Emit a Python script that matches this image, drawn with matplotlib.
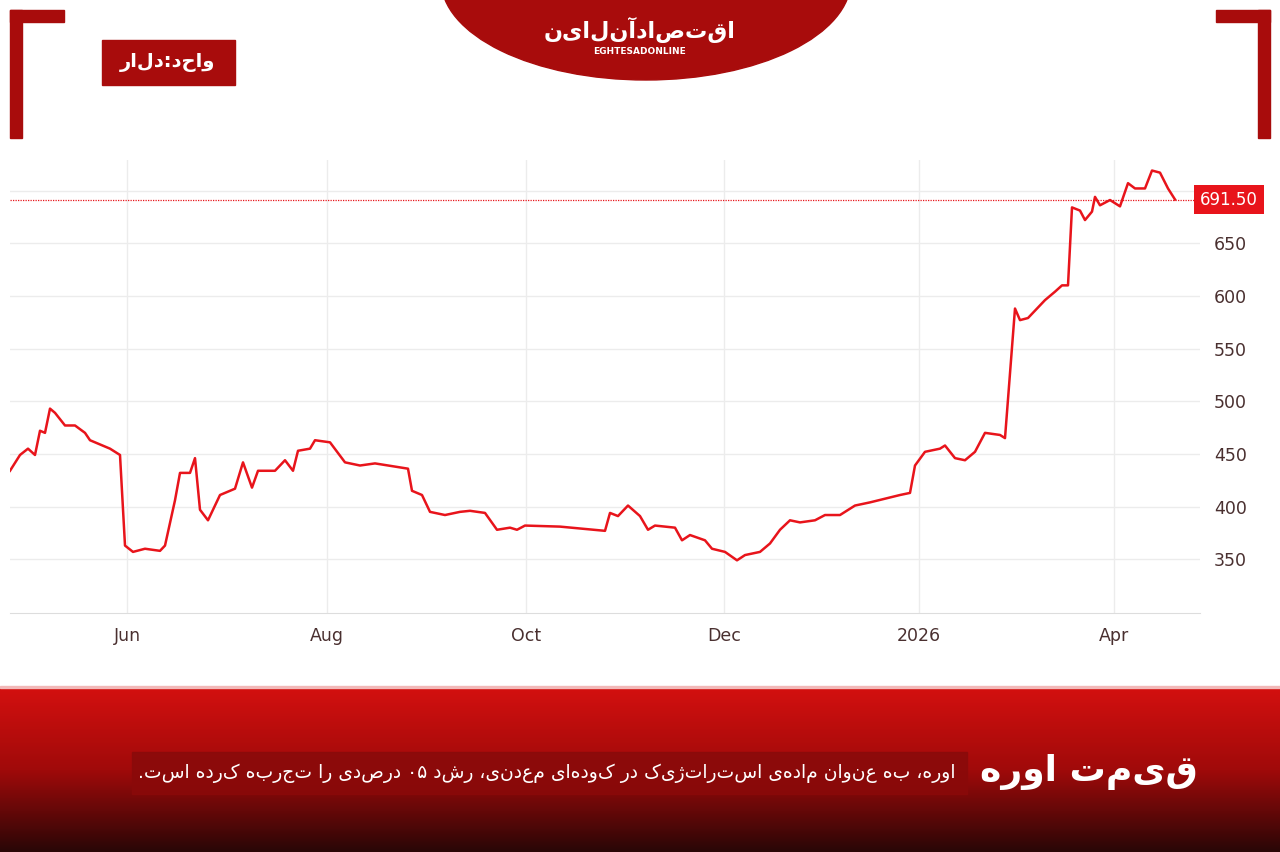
import numpy as np
import matplotlib.pyplot as plt
from matplotlib.patches import Rectangle, Ellipse
from matplotlib.colors import LinearSegmentedColormap

# posiciones (indice de sesion) y precios de la urea, USD
pos = [0, 2, 3.6, 5, 6, 7, 8, 9, 11, 13,
       15, 16, 20, 22, 23, 24.6, 27, 30, 31, 33,
       34, 36, 37, 38, 39.6, 42, 45, 46.6, 48.4, 49.6,
       53, 55, 56.6, 57.6, 60, 61, 64, 67, 70, 73,
       79.6, 80.4, 82.4, 84, 87, 90, 92, 95, 97.4, 100,
       101.4, 103, 110, 119, 120, 121.6, 123.6, 126, 127.6, 129,
       133, 134.4, 136, 139, 140.4, 143, 145.4, 147, 150, 152,
       154, 156, 158, 161, 163, 166, 169, 172, 178, 180,
       181, 183, 186, 187, 189, 191, 193, 195, 198, 199,
       201, 202, 203.6, 205, 207, 209, 210.4, 211.6, 212.4, 214,
       215, 216.4, 217, 218, 220, 222, 223.6, 225, 227, 228.4,
       230, 231.6, 233]
price = [434, 449, 455, 449, 472, 470, 493, 489, 477, 477,
         470, 463, 455, 449, 363, 357, 360, 358, 363, 406,
         432, 432, 446, 397, 387, 411, 417, 442, 418, 434,
         434, 444, 434, 453, 455, 463, 461, 442, 439, 441,
         436, 415, 411, 395, 392, 395, 396, 394, 378, 380,
         378, 382, 381, 377, 394, 391, 401, 391, 378, 382,
         380, 368, 373, 368, 360, 357, 349, 354, 357, 365,
         378, 387, 385, 387, 392, 392, 401, 404, 411, 413,
         439, 452, 455, 458, 446, 444, 452, 470, 468, 465,
         588, 577, 579, 586, 596, 604, 610, 610, 684, 681,
         672, 680, 694, 686, 691, 685, 707, 702, 702, 719,
         717, 702, 691.5]
last = 691.5

month_pos = [23.4, 63.4, 103.2, 142.8, 181.8, 220.8]
month_lbl = ['Jun', 'Aug', 'Oct', 'Dec', '2026', 'Apr']
yticks = [350, 400, 450, 500, 550, 600, 650, 700]

red = '#e8141b'
dark = '#a80c0c'

fig = plt.figure(figsize=(12.8, 8.52), dpi=100)
W, H = 1280, 852

def box(px, py, w, h):
    return [px / W, 1 - (py + h) / H, w / W, h / H]

ax = fig.add_axes(box(10, 160, 1190, 453))
ax.plot(pos, price, color=red, lw=1.8, zorder=3)
ax.axhline(last, color=red, lw=0.9, ls=(0, (1, 1)), zorder=2)
ax.set_xlim(0, 238)
ax.set_ylim(299, 729)
ax.set_yticks(yticks)
ax.set_xticks(month_pos)
ax.set_xticklabels(month_lbl)
ax.yaxis.tick_right()
ax.tick_params(length=0, labelsize=12.5, colors='#4a3030', pad=10)
ax.grid(True, color='#ececec', lw=1)
for s in ['top', 'left', 'right']:
    ax.spines[s].set_visible(False)
ax.spines['bottom'].set_color('#dddddd')
ax.text(1.0, last, f'{last:.2f}', transform=ax.get_yaxis_transform(), color='white',
        fontsize=12, ha='left', va='center', zorder=5,
        bbox=dict(boxstyle='square,pad=0.35', fc=red, ec='none'))

# decoracion de la pagina
bg = fig.add_axes([0, 0, 1, 1], zorder=-1)
bg.set_xlim(0, W)
bg.set_ylim(H, 0)
bg.axis('off')
for r in [(10, 10, 54, 12), (10, 10, 12, 128), (1216, 10, 54, 12), (1258, 10, 12, 128)]:
    bg.add_patch(Rectangle(r[:2], r[2], r[3], color=dark))
bg.add_patch(Ellipse((646, -20), 410, 200, color=dark))
bg.add_patch(Rectangle((102, 40), 133, 45, color=dark))

top = fig.add_axes([0, 0, 1, 1], zorder=5)
top.axis('off')
cmap = LinearSegmentedColormap.from_list('banda', ['#d3100f', '#a00a0a', '#2a0606'])
grad = np.linspace(0, 1, 100).reshape(-1, 1)
top.imshow(grad, extent=(0, W, 852, 688), origin='upper', cmap=cmap, aspect='auto')
top.set_xlim(0, W)
top.set_ylim(H, 0)
top.add_patch(Rectangle((132, 752), 835, 42, color='#8a0a0a', alpha=0.9))
top.add_patch(Rectangle((0, 686), W, 2, color='#f2b8b8'))

fa = ['DejaVu Sans']
top.text(168, 63, 'واحد:دلار'[::-1], color='white', fontsize=14, fontweight='bold',
         ha='center', va='center', family=fa)
top.text(640, 30, 'اقتصادآنلاین'[::-1], color='white', fontsize=16, fontweight='bold',
         ha='center', va='center', family=fa)
top.text(640, 52, 'EGHTESADONLINE', color='white', fontsize=6.5, fontweight='bold',
         ha='center', va='center')
top.text(1198, 772, 'قیمت اوره'[::-1], color='white', fontsize=26, fontweight='bold',
         ha='right', va='center', family=fa)
top.text(955, 773, 'اوره، به عنوان ماده‌ی استراتژیک در کودهای معدنی، رشد ۵۰ درصدی را تجربه کرده است.'[::-1],
         color='white', fontsize=13.5, ha='right', va='center', family=fa)

fig.savefig('out.png', dpi=100)
